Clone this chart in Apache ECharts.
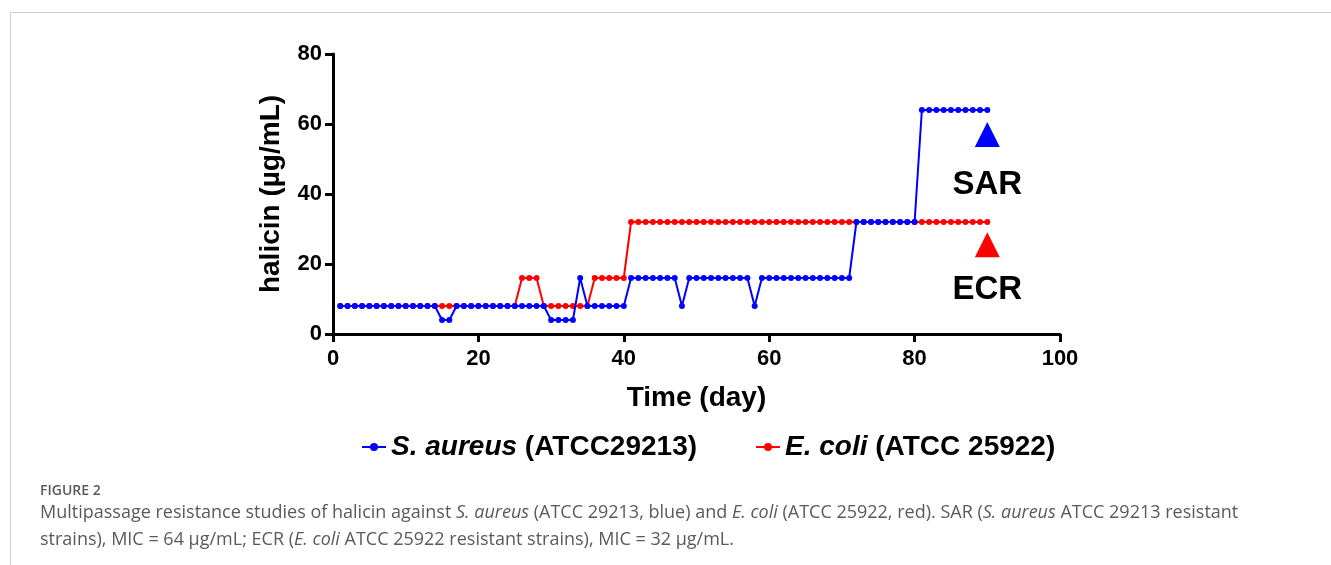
<!DOCTYPE html>
<html>
<head>
<meta charset="utf-8">
<script src="https://cdn.jsdelivr.net/npm/echarts@6/dist/echarts.min.js"></script>
<style>
  html, body { margin: 0; padding: 0; background: #fff; }
  #main { width: 1331px; height: 565px; }
</style>
</head>
<body>
<div id="main"></div>
<script>
// day numbers 1..90
const days = [
  1, 2, 3, 4, 5, 6, 7, 8, 9, 10, 11, 12, 13, 14, 15, 16, 17, 18, 19, 20,
  21, 22, 23, 24, 25, 26, 27, 28, 29, 30, 31, 32, 33, 34, 35, 36, 37, 38, 39, 40,
  41, 42, 43, 44, 45, 46, 47, 48, 49, 50, 51, 52, 53, 54, 55, 56, 57, 58, 59, 60,
  61, 62, 63, 64, 65, 66, 67, 68, 69, 70, 71, 72, 73, 74, 75, 76, 77, 78, 79, 80,
  81, 82, 83, 84, 85, 86, 87, 88, 89, 90
];
// S. aureus MIC (ug/mL)
const saureus = [
  8, 8, 8, 8, 8, 8, 8, 8, 8, 8, 8, 8, 8, 8, 4, 4, 8, 8, 8, 8,
  8, 8, 8, 8, 8, 8, 8, 8, 8, 4, 4, 4, 4, 16, 8, 8, 8, 8, 8, 8,
  16, 16, 16, 16, 16, 16, 16, 8, 16, 16, 16, 16, 16, 16, 16, 16, 16, 8, 16, 16,
  16, 16, 16, 16, 16, 16, 16, 16, 16, 16, 16, 32, 32, 32, 32, 32, 32, 32, 32, 32,
  64, 64, 64, 64, 64, 64, 64, 64, 64, 64
];
// E. coli MIC (ug/mL)
const ecoli = [
  8, 8, 8, 8, 8, 8, 8, 8, 8, 8, 8, 8, 8, 8, 8, 8, 8, 8, 8, 8,
  8, 8, 8, 8, 8, 16, 16, 16, 8, 8, 8, 8, 8, 8, 8, 16, 16, 16, 16, 16,
  32, 32, 32, 32, 32, 32, 32, 32, 32, 32, 32, 32, 32, 32, 32, 32, 32, 32, 32, 32,
  32, 32, 32, 32, 32, 32, 32, 32, 32, 32, 32, 32, 32, 32, 32, 32, 32, 32, 32, 32,
  32, 32, 32, 32, 32, 32, 32, 32, 32, 32
];
// resistant strain markers: [day, value]
const sarMark = [90, 57];
const ecrMark = [90, 25.5];
const sarText = [90, 42.5];
const ecrText = [90, 12.5];

const xTicks = [0, 20, 40, 60, 80, 100];
const yTicks = [0, 20, 40, 60, 80];

const chart = echarts.init(document.getElementById('main'));

const bold = { fontFamily: 'Liberation Sans', fontWeight: 'bold', color: '#000' };

const option = {
  animation: false,
  backgroundColor: '#fff',
  grid: { left: 333, right: 271, top: 54, bottom: 231 },
  legend: {
    data: ['sa', 'ec'],
    left: 356,
    top: 428,
    itemWidth: 24,
    itemHeight: 10,
    itemGap: 58,
    textStyle: {
      fontFamily: 'Liberation Sans', fontSize: 28, fontWeight: 'bold', color: '#000',
      rich: {
        it: { fontFamily: 'Liberation Sans', fontSize: 28, fontWeight: 'bold', fontStyle: 'italic', color: '#000' },
        n: { fontFamily: 'Liberation Sans', fontSize: 28, fontWeight: 'bold', color: '#000' }
      }
    },
    formatter: function (name) {
      if (name === 'sa') return '{it|S. aureus}{n| (ATCC29213)}';
      return '{it|E. coli}{n| (ATCC 25922)}';
    }
  },
  xAxis: {
    type: 'value',
    min: 0, max: 100, interval: 20,
    name: 'Time (day)',
    nameLocation: 'middle',
    nameGap: 50,
    nameTextStyle: Object.assign({ fontSize: 28, verticalAlign: 'top' }, bold),
    axisLine: { lineStyle: { color: '#000', width: 3 } },
    axisTick: { show: true, length: 8, lineStyle: { color: '#000', width: 3 } },
    axisLabel: Object.assign({ fontSize: 22, margin: 14,
      formatter: v => xTicks.indexOf(v) >= 0 ? String(v) : '' }, bold),
    splitLine: { show: false }
  },
  yAxis: {
    type: 'value',
    min: 0, max: 80, interval: 20,
    name: 'halicin (µg/mL)',
    nameLocation: 'middle',
    nameGap: 48,
    nameRotate: 90,
    nameTextStyle: Object.assign({ fontSize: 28 }, bold),
    axisLine: { show: true, lineStyle: { color: '#000', width: 3 } },
    axisTick: { show: true, length: 8, lineStyle: { color: '#000', width: 3 } },
    axisLabel: Object.assign({ fontSize: 22, margin: 11,
      formatter: v => yTicks.indexOf(v) >= 0 ? String(v) : '' }, bold),
    splitLine: { show: false }
  },
  series: [
    {
      name: 'ec',
      type: 'line',
      data: days.map((d, i) => [d, ecoli[i]]),
      color: '#ff0000',
      symbol: 'circle',
      symbolSize: 6,
      lineStyle: { width: 2, color: '#ff0000' },
      itemStyle: { color: '#ff0000' },
      z: 2
    },
    {
      name: 'sa',
      type: 'line',
      data: days.map((d, i) => [d, saureus[i]]),
      color: '#0000ff',
      symbol: 'circle',
      symbolSize: 6,
      lineStyle: { width: 2, color: '#0000ff' },
      itemStyle: { color: '#0000ff' },
      z: 3
    },
    {
      type: 'scatter',
      symbol: 'triangle',
      symbolSize: [25, 25],
      itemStyle: { opacity: 1 },
      data: [
        { value: sarMark, itemStyle: { color: '#0000ff', opacity: 1 } },
        { value: ecrMark, itemStyle: { color: '#ff0000', opacity: 1 } }
      ],
      z: 4
    },
    {
      type: 'scatter',
      symbolSize: 1,
      itemStyle: { opacity: 0 },
      data: [
        { value: sarText, label: { formatter: 'SAR' } },
        { value: ecrText, label: { formatter: 'ECR' } }
      ],
      label: { show: true, position: 'inside', fontSize: 33, fontFamily: 'Liberation Sans', fontWeight: 'bold', color: '#000', opacity: 1 },
      z: 4
    }
  ],
  graphic: [
    { type: 'line', shape: { x1: 10, y1: 12.5, x2: 1331, y2: 12.5 }, style: { stroke: '#cfcfcf', lineWidth: 1 } },
    { type: 'line', shape: { x1: 10.5, y1: 12, x2: 10.5, y2: 565 }, style: { stroke: '#cfcfcf', lineWidth: 1 } },
    {
      type: 'text', left: 40, top: 484,
      style: { text: 'FIGURE 2', font: '600 14px "Open Sans"', fill: '#5a5a5a' }
    },
    {
      type: 'text', left: 40, top: 499,
      style: {
        text: 'Multipassage resistance studies of halicin against {i|S. aureus} (ATCC 29213, blue) and {i|E. coli} (ATCC 25922, red). SAR ({i|S. aureus} ATCC 29213 resistant\nstrains), MIC = 64 µg/mL; ECR ({i|E. coli} ATCC 25922 resistant strains), MIC = 32 µg/mL.',
        font: '18px "Open Sans"',
        fill: '#5a5a5a',
        lineHeight: 27,
        rich: {
          i: { fontFamily: 'Open Sans', fontSize: 18, fontStyle: 'italic', fill: '#5a5a5a', lineHeight: 27 }
        }
      }
    }
  ]
};

chart.setOption(option);
</script>
</body>
</html>
